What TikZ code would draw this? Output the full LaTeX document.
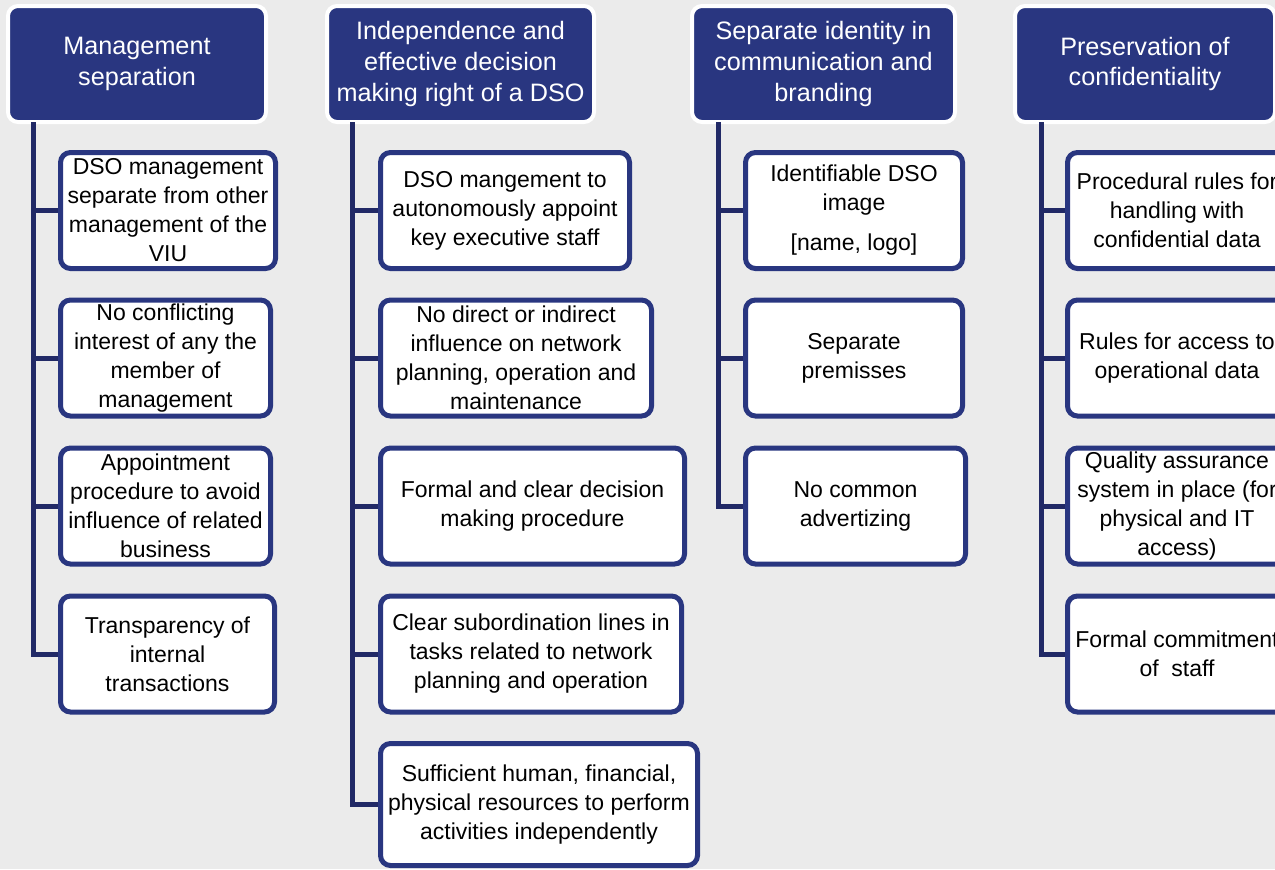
\documentclass[tikz,border=0pt]{standalone}
\usepackage{fontspec}
\setmainfont{Liberation Sans}
\definecolor{navy}{RGB}{41,54,128}
\definecolor{trunkblue}{RGB}{33,41,102}
\definecolor{bggray}{RGB}{235,235,235}
\begin{document}
\begin{tikzpicture}[x=0.5pt, y=-0.5pt,
	head/.style={draw=white, line width=2pt, fill=navy, rounded corners=5pt, text=white, align=center, inner sep=0pt, minimum height=58pt, font=\fontsize{12.6}{15.3}\selectfont},
	item/.style={draw=navy, line width=2.5pt, fill=white, rounded corners=5pt, align=center, inner sep=0pt, minimum height=58pt, anchor=west, font=\fontsize{11.5}{14.5}\selectfont},
	trunk/.style={draw=trunkblue, line width=2.5pt}]
		%page and background
		\useasboundingbox (0,0) rectangle (1275,869);
		\clip (0,0) rectangle (1275,869);
		\fill[bggray] (0,0) rectangle (1275,869);
		
		%headers
		\node[head, minimum width=129pt] (h1) at (137,64) {Management\\separation};
		\node[head, minimum width=133.5pt] (h2) at (460.5,64) {Independence and\\effective decision\\making right of a DSO};
		\node[head, minimum width=131.5pt] (h3) at (823.5,64) {Separate identity in\\communication and\\branding};
		\node[head, minimum width=130pt] (h4) at (1145,64) {Preservation of\\confidentiality};
		
		%trunk tops
		\coordinate (t1) at (33.5,122);
		\coordinate (t2) at (352,122);
		\coordinate (t3) at (718,122);
		\coordinate (t4) at (1041,122);
		
		%management separation
		\node[item, minimum width=107.5pt] (c11) at (58,210.5) {DSO management\\separate from other\\management of the\\VIU};
		\node[item, minimum width=105pt] (c12) at (58,358) {No conflicting\\interest of any the\\member of\\management};
		\node[item, minimum width=105pt] (c13) at (58,506) {Appointment\\procedure to avoid\\influence of related\\business};
		\node[item, minimum width=107pt] (c14) at (58,654) {Transparency of\\internal\\transactions};
		
		%independence
		\node[item, minimum width=124.5pt] (c21) at (378,210.5) {DSO mangement to\\autonomously appoint\\key executive staff};
		\node[item, minimum width=135.5pt] (c22) at (378,358) {No direct or indirect\\influence on network\\planning, operation and\\maintenance};
		\node[item, minimum width=152pt] (c23) at (378,506) {Formal and clear decision\\making procedure};
		\node[item, minimum width=150.5pt] (c24) at (378,654) {Clear subordination lines in\\tasks related to network\\planning and operation};
		\node[item, minimum width=158.5pt, minimum height=61pt] (c25) at (378,804.5) {Sufficient human, financial,\\physical resources to perform\\activities independently};
		
		%identity
		\node[item, minimum width=108.5pt] (c31) at (743,210.5) {Identifiable DSO\\image\\[5.5pt][name, logo]};
		\node[item, minimum width=108.5pt] (c32) at (743,358) {Separate\\premisses};
		\node[item, minimum width=110pt] (c33) at (743,506) {No common\\advertizing};
		
		%confidentiality
		\node[item, minimum width=109.5pt] (c41) at (1065,210.5) {Procedural rules for\\handling with\\confidential data};
		\node[item, minimum width=109.5pt] (c42) at (1065,358) {Rules for access to\\operational data};
		\node[item, minimum width=109.5pt] (c43) at (1065,506) {Quality assurance\\system in place (for\\physical and IT\\access)};
		\node[item, minimum width=109.5pt] (c44) at (1065,654) {Formal commitment\\of~ staff};
		
		%connectors
		\foreach \i in {1,...,4}{
			\draw[trunk] (t1) |- (c1\i.west);
			\draw[trunk] (t4) |- (c4\i.west);
		}
		\foreach \i in {1,...,5}{
			\draw[trunk] (t2) |- (c2\i.west);
		}
		\foreach \i in {1,...,3}{
			\draw[trunk] (t3) |- (c3\i.west);
		}
\end{tikzpicture}
\end{document}
